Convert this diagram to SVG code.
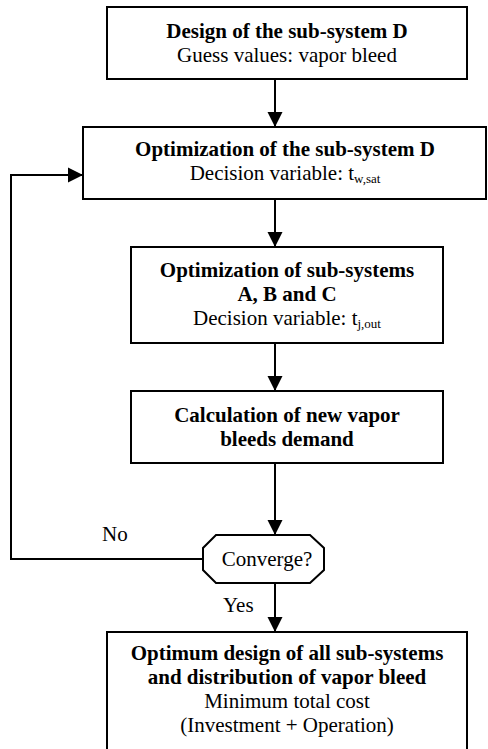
<svg xmlns="http://www.w3.org/2000/svg" width="488" height="749" viewBox="0 0 488 749">
<style>
.box{fill:#fff;stroke:#000;stroke-width:2}
.c{fill:none;stroke:#000;stroke-width:2}
text{font-family:"Liberation Serif","Times New Roman",serif;font-size:21px;fill:#000}
.b{font-weight:bold}
.m{text-anchor:middle}
.sub{font-size:13px}
</style>
<defs>
<marker id="ah" markerUnits="userSpaceOnUse" markerWidth="16" markerHeight="16" viewBox="0 0 16 16" refX="15" refY="8" orient="auto">
<path d="M0,0.5 L15,8 L0,15.5 Z" fill="#000"/>
</marker>
</defs>
<g id="connectors">
<line class="c" x1="275" y1="79" x2="275" y2="127" marker-end="url(#ah)"/>
<line class="c" x1="275" y1="199" x2="275" y2="247" marker-end="url(#ah)"/>
<line class="c" x1="275" y1="343" x2="275" y2="391" marker-end="url(#ah)"/>
<line class="c" x1="275" y1="463" x2="275" y2="535" marker-end="url(#ah)"/>
<line class="c" x1="275" y1="583" x2="275" y2="632" marker-end="url(#ah)"/>
<polyline class="c" points="203,559 11,559 11,175 83,175" marker-end="url(#ah)"/>
<text x="102" y="541">No</text>
<text x="223" y="612">Yes</text>
</g>
<g id="n1">
<rect class="box" x="107" y="7" width="360" height="72"/>
<text class="b m" x="287" y="38">Design of the sub-system D</text>
<text class="m" x="287" y="62">Guess values: vapor bleed</text>
</g>
<g id="n2">
<rect class="box" x="83" y="127" width="403" height="72"/>
<text class="b m" x="285" y="156">Optimization of the sub-system D</text>
<text class="m" x="285" y="180">Decision variable: t<tspan class="sub" dy="3">w,sat</tspan></text>
</g>
<g id="n3">
<rect class="box" x="131" y="247" width="312" height="96"/>
<text class="b m" x="287" y="277">Optimization of sub-systems</text>
<text class="b m" x="287" y="301">A, B and C</text>
<text class="m" x="287" y="325">Decision variable: t<tspan class="sub" dy="3">j,out</tspan></text>
</g>
<g id="n4">
<rect class="box" x="131" y="391" width="312" height="72"/>
<text class="b m" x="287" y="422">Calculation of new vapor</text>
<text class="b m" x="287" y="446">bleeds demand</text>
</g>
<g id="n5">
<polygon class="box" points="216,535 310,535 324,548 324,570 310,583 216,583 203,570 203,548"/>
<text class="m" x="267" y="566">Converge?</text>
</g>
<g id="n6">
<rect class="box" x="107" y="632" width="360" height="130"/>
<text class="b m" x="287" y="660">Optimum design of all sub-systems</text>
<text class="b m" x="287" y="684">and distribution of vapor bleed</text>
<text class="m" x="287" y="708">Minimum total cost</text>
<text class="m" x="287" y="732">(Investment + Operation)</text>
</g>
</svg>
